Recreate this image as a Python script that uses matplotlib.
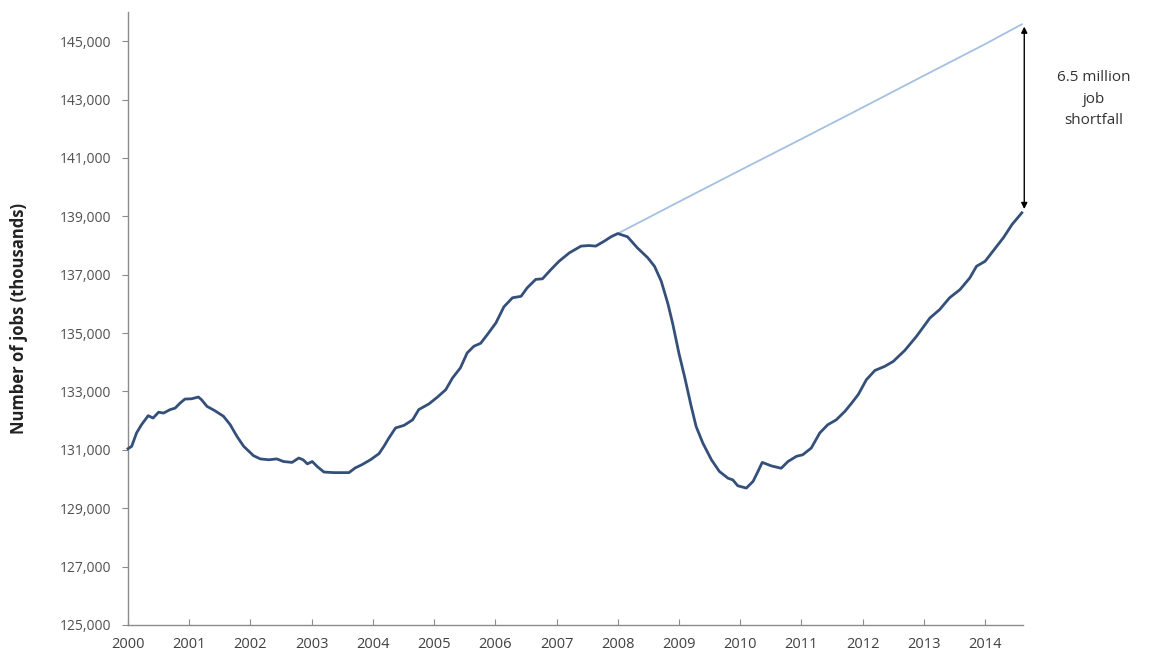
import matplotlib
matplotlib.use("Agg")
import matplotlib.pyplot as plt
from matplotlib.ticker import FuncFormatter

plt.rcParams['font.family'] = ['Open Sans', 'DejaVu Sans']

years = [2000.00, 2000.06, 2000.14, 2000.22, 2000.33, 2000.41, 2000.50, 2000.58, 2000.69, 2000.77,
         2000.85, 2000.93, 2001.04, 2001.15, 2001.20, 2001.29, 2001.42, 2001.56, 2001.67, 2001.78,
         2001.89, 2002.05, 2002.16, 2002.30, 2002.43, 2002.54, 2002.68, 2002.79, 2002.86, 2002.93,
         2003.01, 2003.09, 2003.20, 2003.36, 2003.61, 2003.71, 2003.82, 2003.96, 2004.10, 2004.18,
         2004.26, 2004.37, 2004.51, 2004.65, 2004.75, 2004.92, 2005.05, 2005.19, 2005.30, 2005.43,
         2005.54, 2005.65, 2005.76, 2005.87, 2006.01, 2006.14, 2006.28, 2006.42, 2006.52, 2006.66,
         2006.77, 2006.91, 2007.04, 2007.21, 2007.40, 2007.53, 2007.64, 2007.78, 2007.89, 2008.00,
         2008.16, 2008.32, 2008.49, 2008.60, 2008.71, 2008.82, 2008.90, 2009.00, 2009.09, 2009.20,
         2009.28, 2009.39, 2009.53, 2009.66, 2009.80, 2009.88, 2009.96, 2010.10, 2010.21, 2010.29,
         2010.36, 2010.51, 2010.67, 2010.78, 2010.92, 2011.02, 2011.16, 2011.30, 2011.43, 2011.57,
         2011.71, 2011.82, 2011.93, 2012.06, 2012.20, 2012.36, 2012.50, 2012.69, 2012.88, 2013.10,
         2013.26, 2013.42, 2013.59, 2013.75, 2013.86, 2014.00, 2014.13, 2014.30, 2014.44, 2014.60]
jobs = [131040, 131120, 131580, 131860, 132170, 132090, 132290, 132260, 132380, 132430,
        132600, 132740, 132750, 132810, 132720, 132490, 132340, 132150, 131860, 131460,
        131120, 130800, 130690, 130660, 130690, 130600, 130570, 130720, 130660, 130520,
        130600, 130430, 130240, 130220, 130220, 130380, 130490, 130660, 130870, 131120,
        131400, 131750, 131840, 132030, 132380, 132580, 132800, 133060, 133460, 133810,
        134320, 134550, 134650, 134950, 135350, 135900, 136210, 136260, 136550, 136840,
        136860, 137180, 137460, 137750, 137980, 138000, 137980, 138150, 138300, 138410,
        138300, 137920, 137580, 137290, 136780, 136000, 135300, 134300, 133520, 132490,
        131800, 131230, 130660, 130260, 130030, 129970, 129770, 129690, 129920, 130260,
        130570, 130450, 130370, 130600, 130780, 130830, 131060, 131580, 131860, 132030,
        132320, 132600, 132900, 133400, 133720, 133860, 134030, 134410, 134890, 135520,
        135810, 136210, 136490, 136890, 137290, 137460, 137810, 138270, 138720, 139120]

# pre-recession trend (thousands)
trend_years = [2008.00, 2009.00, 2010.00, 2011.00, 2012.00, 2013.00, 2014.00, 2014.60]
trend_jobs = [138410, 139500, 140580, 141650, 142730, 143820, 144900, 145580]

year_ticks = list(range(2000, 2015))
job_ticks = list(range(125000, 146000, 2000))

fig = plt.figure(figsize=(11.5, 6.53), dpi=100)
ax = fig.add_axes([0.1113, 0.0429, 0.7783, 0.9387])

ax.plot(trend_years, trend_jobs, color='#a4c0e2', lw=1.3, clip_on=False, zorder=2)
ax.plot(years, jobs, color='#34507a', lw=2.0, clip_on=False, zorder=3,
        solid_joinstyle='round')

ax.set_xlim(2000, 2014.62)
ax.set_ylim(125000, 146000)
ax.set_xticks(year_ticks)
ax.set_yticks(job_ticks)
ax.yaxis.set_major_formatter(FuncFormatter(lambda v, p: f"{int(v):,}"))

for s in ['top', 'right']:
    ax.spines[s].set_visible(False)
for s in ['left', 'bottom']:
    ax.spines[s].set_color('#8c8c8c')
    ax.spines[s].set_linewidth(1.0)

ax.tick_params(axis='y', direction='out', length=4, color='#8c8c8c',
               labelsize=10, labelcolor='#505050', pad=8)
ax.tick_params(axis='x', direction='in', length=4, color='#8c8c8c',
               labelsize=10.5, labelcolor='#404040', pad=9)

ax.set_ylabel('Number of jobs (thousands)', fontsize=12, fontweight='bold',
              color='#222222', labelpad=23)

# shortfall arrow and label
ax.annotate('', xy=(2014.64, 145500), xytext=(2014.64, 139250),
            arrowprops=dict(arrowstyle='<|-|>', color='black', lw=1.0,
                            mutation_scale=9, shrinkA=0, shrinkB=0),
            annotation_clip=False)
ax.text(2015.78, 143010, '6.5 million\njob\nshortfall', ha='center', va='center',
        fontsize=11, color='#333333', linespacing=1.6, clip_on=False)

fig.savefig('out.png', dpi=100)
